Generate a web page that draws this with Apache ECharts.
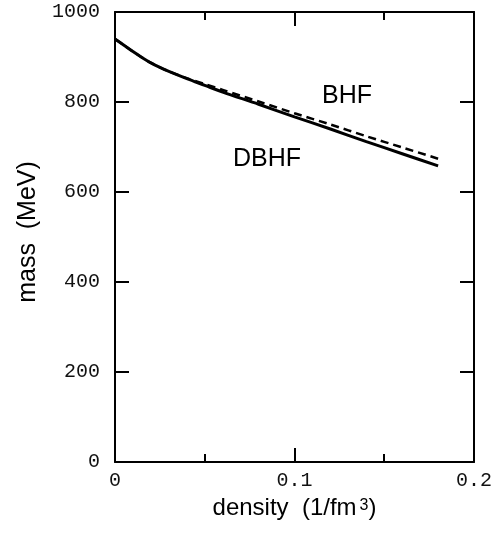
<!DOCTYPE html>
<html>
<head>
<meta charset="utf-8">
<script src="https://cdn.jsdelivr.net/npm/echarts@6/dist/echarts.min.js"></script>
<style>html,body{margin:0;padding:0;background:#fff;}#c{width:502px;height:537px;}</style>
</head>
<body>
<div id="c"></div>
<script>
var density  = [0, 0.005, 0.01, 0.015, 0.02, 0.025, 0.03, 0.04, 0.05, 0.06, 0.08, 0.10, 0.12, 0.14, 0.16, 0.18];
var dbhfMass = [940, 926, 912, 899, 887, 877, 868, 852, 837, 822, 795, 767, 740, 712, 685, 658];
var bhfMass  = [940, 926, 912, 899, 887, 877, 868, 853, 840, 827, 801, 775, 750, 724, 699, 674];
var xTicks = [0, 0.1, 0.2];
var yTicks = [0, 200, 400, 600, 800, 1000];
var seriesNames = ['DBHF', 'BHF'];

var chart = echarts.init(document.getElementById('c'), null, {renderer: 'canvas'});
function pairs(xs, ys) { return xs.map(function (x, i) { return [x, ys[i]]; }); }
var mono = 'Liberation Mono';
var sans = 'Liberation Sans';
var lineStyle = {color: '#000', width: 2};

chart.setOption({
  animation: false,
  backgroundColor: '#fff',
  grid: {left: 115, top: 12, right: 28, bottom: 75},
  xAxis: [{
    type: 'value', min: xTicks[0], max: xTicks[xTicks.length - 1], interval: 0.1,
    axisLine: {show: true, onZero: false, lineStyle: lineStyle},
    axisTick: {show: true, inside: true, length: 14, lineStyle: lineStyle},
    minorTick: {show: true, splitNumber: 2, length: 8, lineStyle: {color: '#000', width: 2}},
    splitLine: {show: false},
    axisLabel: {fontFamily: mono, fontSize: 20, color: '#111', margin: 9, formatter: function (v) { return String(v); }},
    name: '{a|density  (1/fm}{s|3}{a|)}',
    nameLocation: 'middle', nameGap: 34,
    nameTextStyle: {
      rich: {
        a: {fontFamily: sans, fontSize: 24, color: '#000', verticalAlign: 'bottom'},
        s: {fontFamily: sans, fontSize: 16, color: '#000', verticalAlign: 'bottom', padding: [0, 0, 6, 3]}
      }
    }
  }, {
    type: 'value', position: 'top', min: 0, max: 0.2, interval: 0.1,
    axisLine: {show: true, onZero: false, lineStyle: lineStyle},
    axisTick: {show: true, inside: true, length: 14, lineStyle: lineStyle},
    minorTick: {show: true, splitNumber: 2, length: 8, lineStyle: {color: '#000', width: 2}},
    splitLine: {show: false},
    axisLabel: {show: false}
  }],
  yAxis: [{
    type: 'value', min: yTicks[0], max: yTicks[yTicks.length - 1], interval: 200,
    axisLine: {show: true, onZero: false, lineStyle: lineStyle},
    axisTick: {show: true, inside: true, length: 14, lineStyle: lineStyle},
    splitLine: {show: false},
    axisLabel: {fontFamily: mono, fontSize: 20, color: '#111', margin: 15, formatter: function (v) { return String(v); }},
    name: 'mass  (MeV)',
    nameLocation: 'middle', nameGap: 74, nameRotate: 90,
    nameTextStyle: {fontFamily: sans, fontSize: 25, color: '#000', padding: [0, 0, 0, 10]}
  }, {
    type: 'value', position: 'right', min: 0, max: 1000, interval: 200,
    axisLine: {show: true, onZero: false, lineStyle: lineStyle},
    axisTick: {show: true, inside: true, length: 14, lineStyle: lineStyle},
    splitLine: {show: false},
    axisLabel: {show: false}
  }],
  series: [{
    name: seriesNames[0], type: 'line', xAxisIndex: 0, yAxisIndex: 0,
    data: pairs(density, dbhfMass), showSymbol: false, smooth: 0.3,
    lineStyle: {color: '#000', width: 3, type: 'solid'}
  }, {
    name: seriesNames[1], type: 'line', xAxisIndex: 0, yAxisIndex: 0,
    data: pairs(density, bhfMass), showSymbol: false, smooth: 0.3,
    lineStyle: {color: '#000', width: 2.5, type: [8, 5]}
  }],
  graphic: [
    {type: 'text', left: 322, top: 84, style: {text: seriesNames[1], font: '25px "Liberation Sans"', fill: '#000'}},
    {type: 'text', left: 233, top: 147, style: {text: seriesNames[0], font: '25px "Liberation Sans"', fill: '#000'}}
  ]
});
</script>
</body>
</html>
